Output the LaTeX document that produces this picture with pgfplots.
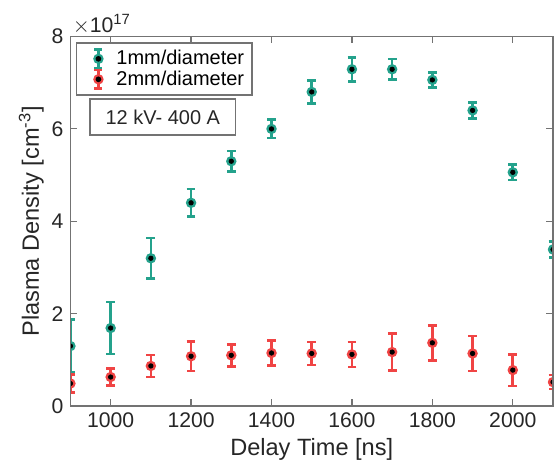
\documentclass[border=0pt]{standalone}
\usepackage{fontspec}
\setmainfont{Liberation Sans}
\usepackage{pgfplots}
\pgfplotsset{compat=1.18}
\definecolor{teal1}{RGB}{36,162,140}
\definecolor{red1}{RGB}{240,68,68}
\definecolor{axgray}{RGB}{115,115,115}

\pgfplotsset{
    ebar legend/.style={
        legend image code/.code={
            \path[draw=none, fill=none] (0pt,0pt) -- (16pt,0pt);
            \draw[line width=1.3pt] (9pt,-4.6pt) -- (9pt,4.6pt);
            \draw[line width=1.3pt] (7pt,-4.6pt) -- (11pt,-4.6pt);
            \draw[line width=1.3pt] (7pt,4.6pt) -- (11pt,4.6pt);
            \fill (9pt,0pt) circle (2.3pt);
            \fill[black] (9pt,0pt) circle (1.1pt);
        }
    }
}

\begin{document}
\begin{tikzpicture}
\useasboundingbox (-35.25pt,-33.5pt) rectangle (242.5pt,203.25pt);
\begin{axis}[
    scale only axis,
    width=241.5pt,
    height=185pt,
    xmin=900, xmax=2100,
    ymin=0, ymax=8,
    xtick={1000,1200,...,2000},
    ytick={0,2,4,6,8},
    tick align=inside,
    major tick length=3.5pt,
    tick style={axgray, line width=0.6pt},
    axis line style={axgray, line width=0.8pt},
    /pgf/number format/assume math mode=true,
    /pgf/number format/1000 sep={},
    ticklabel style={font=\fontsize{10.6}{12}\selectfont, text=black!85},
    xlabel={Delay Time [ns]},
    ylabel={Plasma Density [cm\textsuperscript{-3}]},
    label style={font=\fontsize{11.8}{14}\selectfont, text=black!85},
    xlabel style={yshift=2pt},
    ylabel style={yshift=-3pt},
    clip mode=individual,
    clip marker paths=true,
    legend style={at={(rel axis cs:0.011,0.984)}, anchor=north west,
        font=\fontsize{10}{12}\selectfont, draw=axgray, line width=0.7pt,
        fill=white, inner xsep=2pt, inner ysep=1.5pt,
        row sep=-2.5pt, column sep=0pt, cells={anchor=west}},
    legend cell align=left,
    error bars/error bar style={line width=1.3pt},
    error bars/error mark options={rotate=90, mark size=2.2pt, line width=1.3pt},
]

% 1 mm / diameter
\addplot[teal1, only marks, mark=*, mark size=2.3pt, line width=0.6pt,
    ebar legend,
    error bars/.cd, y dir=both, y explicit]
    coordinates {
    (900,1.30) +- (0,0.57)
    (1000,1.69) +- (0,0.56)
    (1100,3.20) +- (0,0.44)
    (1200,4.40) +- (0,0.30)
    (1300,5.30) +- (0,0.22)
    (1400,6.00) +- (0,0.20)
    (1500,6.80) +- (0,0.25)
    (1600,7.29) +- (0,0.26)
    (1700,7.29) +- (0,0.22)
    (1800,7.06) +- (0,0.16)
    (1900,6.40) +- (0,0.17)
    (2000,5.06) +- (0,0.17)
    (2100,3.39) +- (0,0.17)
    };
\addlegendentry{1mm/diameter}

% 2 mm / diameter
\addplot[red1, only marks, mark=*, mark size=2.3pt, line width=0.6pt,
    ebar legend,
    error bars/.cd, y dir=both, y explicit]
    coordinates {
    (900,0.49) +- (0,0.19)
    (1000,0.63) +- (0,0.18)
    (1100,0.87) +- (0,0.24)
    (1200,1.08) +- (0,0.32)
    (1300,1.10) +- (0,0.24)
    (1400,1.15) +- (0,0.27)
    (1500,1.14) +- (0,0.25)
    (1600,1.12) +- (0,0.27)
    (1700,1.17) +- (0,0.40)
    (1800,1.37) +- (0,0.38)
    (1900,1.14) +- (0,0.38)
    (2000,0.78) +- (0,0.34)
    (2100,0.52) +- (0,0.15)
    };
\addlegendentry{2mm/diameter}

% black centre dots
\addplot[black, only marks, mark=*, mark size=1.1pt, forget plot]
    coordinates {
    (900,1.30) (1000,1.69) (1100,3.20) (1200,4.40) (1300,5.30) (1400,6.00)
    (1500,6.80) (1600,7.29) (1700,7.29) (1800,7.06) (1900,6.40) (2000,5.06)
    (2100,3.39)
    };
\addplot[black, only marks, mark=*, mark size=1.1pt, forget plot]
    coordinates {
    (900,0.49) (1000,0.63) (1100,0.87) (1200,1.08) (1300,1.10) (1400,1.15)
    (1500,1.14) (1600,1.12) (1700,1.17) (1800,1.37) (1900,1.14) (2000,0.78)
    (2100,0.52)
    };

% axis box drawn again on top
\draw[axgray, line width=0.8pt] (rel axis cs:0,0) rectangle (rel axis cs:1,1);

\node[draw=axgray, line width=0.7pt, fill=white, minimum width=72.8pt,
    minimum height=18pt, font=\fontsize{10}{12}\selectfont, inner sep=2pt,
    text=black!85]
    at (rel axis cs:0.1915,0.782) {12 kV- 400 A};
\node[anchor=south west, font=\fontsize{10.6}{12}\selectfont, text=black!85,
    inner sep=1pt] at (rel axis cs:0,1) {$\times$10\textsuperscript{17}};
\end{axis}
\end{tikzpicture}
\end{document}
